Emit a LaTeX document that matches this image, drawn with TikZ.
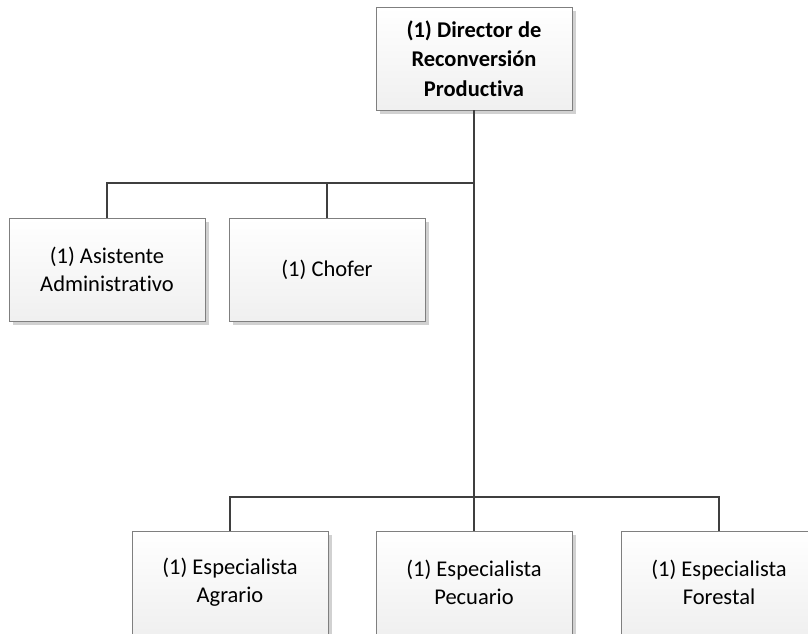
\documentclass[tikz,border=0pt]{standalone}
\usepackage{fontspec}
\setmainfont{Carlito}[Ligatures=NoCommon]
\usetikzlibrary{shadows}
\definecolor{linegray}{HTML}{3F3F3F}
\definecolor{boxline}{HTML}{7F7F7F}
\begin{document}
\begin{tikzpicture}[x=1pt,y=-1pt,
  orgbox/.style={draw=boxline, line width=0.8pt, top color=white, bottom color=black!6,
    minimum width=196pt, minimum height=103pt, align=center, inner sep=2pt,
    font=\fontsize{22.5pt}{28pt}\selectfont,
    drop shadow={shadow xshift=4pt, shadow yshift=-4pt, fill=black!18, opacity=1}},
  headbox/.style={orgbox, font=\bfseries\fontsize{22.5pt}{29.5pt}\selectfont},
  conn/.style={draw=linegray, line width=2.6pt}]
\useasboundingbox (0,0) rectangle (808,633);
\clip (0,0) rectangle (808,633);

% boxes
\node[headbox] (dir) at (474,58.5) {(1) Director de\\Reconversión\\Productiva};
\node[orgbox] (asis) at (107,269.5) {(1) Asistente\\Administrativo};
\node[orgbox] (chof) at (327,269.5) {(1) Chofer};
\node[orgbox] (agr) at (230,582.5) {(1) Especialista\\Agrario};
\node[orgbox] (pec) at (474,582.5) {(1) Especialista\\Pecuario};
\node[orgbox] (for) at (719,582.5) {(1) Especialista\\Forestal};

% bus levels
\coordinate (bus1) at (0,183);
\coordinate (bus2) at (0,497);

% connectors
\draw[conn] (dir.south) -- (dir.south |- bus2);
\draw[conn] (asis.north) -- (asis.north |- bus1) -- (dir.south |- bus1);
\draw[conn] (chof.north) -- (chof.north |- bus1);
\draw[conn] (agr.north) -- (agr.north |- bus2) -- (for.north |- bus2) -- (for.north);
\draw[conn] (pec.north) -- (pec.north |- bus2);
\end{tikzpicture}
\end{document}
